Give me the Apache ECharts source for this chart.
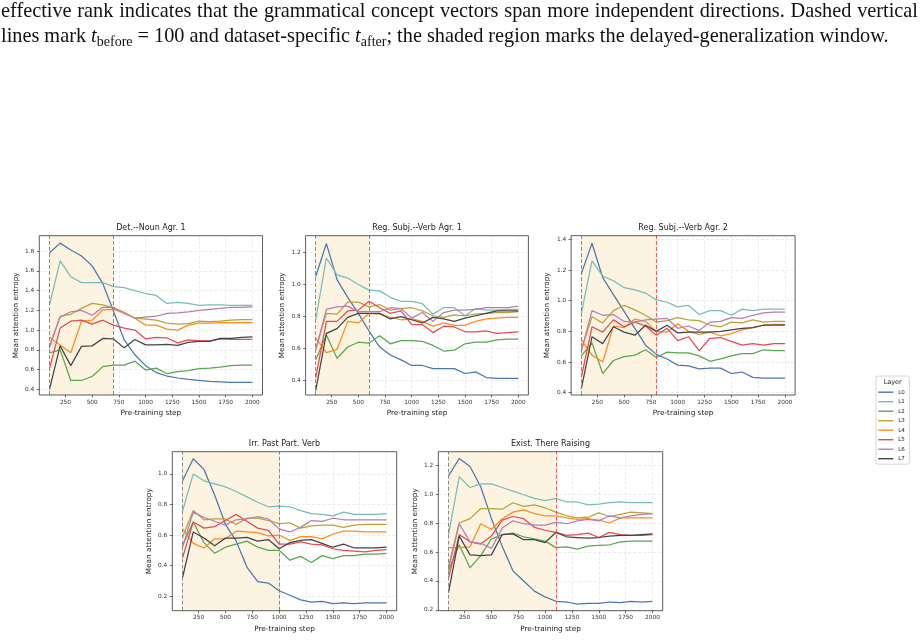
<!DOCTYPE html>
<html><head><meta charset="utf-8">
<script src="https://cdn.jsdelivr.net/npm/echarts@6/dist/echarts.min.js"></script>
<style>html,body{margin:0;padding:0;background:#fff}#c{width:920px;height:640px}</style>
</head><body><div id="c"></div>
<script>
// ---------------- data ----------------
const steps = [100,200,300,400,500,600,700,800,900,1000,1100,1200,1300,1400,1500,1600,1700,1800,1900,2000];
const xTicks = [250,500,750,1000,1250,1500,1750,2000];
const layers = ['L0','L1','L2','L3','L4','L5','L6','L7'];
const panelTitles = ['Det.--Noun Agr. 1','Reg. Subj.--Verb Agr. 1','Reg. Subj.--Verb Agr. 2','Irr. Past Part. Verb','Exist. There Raising'];
const tBefore = 100;
const tAfter = [700, 600, 800, 1000, 1100];

const yTicksDet = [0.4,0.6,0.8,1.0,1.2,1.4,1.6,1.8];
const yTicksReg1 = [0.4,0.6,0.8,1.0,1.2];
const yTicksReg2 = [0.4,0.6,0.8,1.0,1.2,1.4];
const yTicksIrr = [0.2,0.4,0.6,0.8,1.0];
const yTicksExist = [0.2,0.4,0.6,0.8,1.0,1.2];

// Det.--Noun Agr. 1
const detL0 = [1.78,1.88,1.81,1.75,1.65,1.47,1.19,0.90,0.75,0.64,0.57,0.535,0.515,0.50,0.49,0.48,0.475,0.47,0.47,0.47];
const detL1 = [1.25,1.70,1.54,1.48,1.48,1.48,1.44,1.43,1.40,1.37,1.35,1.27,1.28,1.27,1.25,1.255,1.255,1.25,1.25,1.25];
const detL2 = [0.77,0.80,0.49,0.49,0.53,0.63,0.645,0.645,0.685,0.595,0.615,0.56,0.58,0.59,0.61,0.615,0.625,0.64,0.645,0.645];
const detL3 = [0.82,1.14,1.16,1.22,1.27,1.255,1.225,1.18,1.12,1.11,1.10,1.07,1.06,1.065,1.09,1.085,1.09,1.10,1.105,1.105];
const detL4 = [0.93,0.85,0.77,1.09,1.10,1.205,1.21,1.17,1.12,1.05,1.05,1.01,1.00,1.05,1.07,1.07,1.075,1.075,1.075,1.075];
const detL5 = [0.61,1.02,1.09,1.10,1.06,1.10,1.05,1.02,1.00,0.91,0.925,0.92,0.87,0.90,0.89,0.89,0.91,0.905,0.905,0.905];
const detL6 = [0.84,1.13,1.185,1.20,1.15,1.23,1.23,1.17,1.12,1.13,1.14,1.17,1.175,1.185,1.20,1.21,1.22,1.23,1.23,1.235];
const detL7 = [0.40,0.84,0.64,0.835,0.84,0.915,0.91,0.82,0.905,0.85,0.85,0.855,0.845,0.875,0.885,0.885,0.915,0.915,0.925,0.93];

// Reg. Subj.--Verb Agr. 1
const reg1L0 = [1.05,1.255,1.03,0.92,0.82,0.71,0.61,0.56,0.53,0.495,0.495,0.475,0.475,0.475,0.445,0.455,0.42,0.415,0.415,0.415];
const reg1L1 = [0.78,1.165,1.06,1.04,1.00,0.965,0.96,0.92,0.895,0.895,0.88,0.815,0.855,0.855,0.805,0.85,0.84,0.84,0.845,0.845];
const reg1L2 = [0.53,0.685,0.54,0.61,0.64,0.635,0.68,0.63,0.65,0.65,0.645,0.62,0.585,0.59,0.63,0.64,0.64,0.655,0.66,0.66];
const reg1L3 = [0.60,0.82,0.815,0.89,0.89,0.86,0.875,0.84,0.85,0.855,0.835,0.805,0.795,0.81,0.805,0.815,0.82,0.825,0.825,0.83];
const reg1L4 = [0.665,0.575,0.595,0.77,0.76,0.82,0.815,0.795,0.78,0.785,0.77,0.74,0.76,0.745,0.745,0.77,0.785,0.79,0.795,0.795];
const reg1L5 = [0.42,0.77,0.77,0.835,0.84,0.895,0.855,0.82,0.835,0.75,0.75,0.70,0.74,0.735,0.705,0.705,0.71,0.695,0.70,0.705];
const reg1L6 = [0.59,0.845,0.86,0.865,0.83,0.83,0.83,0.855,0.85,0.79,0.825,0.77,0.825,0.84,0.84,0.845,0.855,0.855,0.855,0.865];
const reg1L7 = [0.34,0.695,0.725,0.795,0.82,0.82,0.82,0.785,0.80,0.78,0.76,0.795,0.785,0.77,0.79,0.805,0.82,0.835,0.835,0.835];

// Reg. Subj.--Verb Agr. 2
const reg2L0 = [1.175,1.375,1.15,1.04,0.93,0.82,0.71,0.65,0.62,0.58,0.575,0.555,0.56,0.56,0.525,0.535,0.50,0.495,0.495,0.495];
const reg2L1 = [0.915,1.26,1.16,1.13,1.085,1.07,1.05,1.005,0.99,0.96,0.97,0.91,0.935,0.935,0.905,0.945,0.935,0.945,0.945,0.945];
const reg2L2 = [0.64,0.725,0.525,0.61,0.635,0.645,0.68,0.63,0.665,0.66,0.66,0.64,0.605,0.62,0.64,0.655,0.655,0.68,0.675,0.675];
const reg2L3 = [0.68,0.895,0.855,0.935,0.97,0.94,0.905,0.86,0.87,0.89,0.875,0.87,0.84,0.83,0.86,0.855,0.875,0.86,0.865,0.865];
const reg2L4 = [0.745,0.645,0.60,0.835,0.825,0.88,0.865,0.80,0.795,0.85,0.80,0.78,0.795,0.77,0.785,0.81,0.825,0.84,0.845,0.845];
const reg2L5 = [0.50,0.83,0.795,0.875,0.83,0.86,0.835,0.775,0.82,0.74,0.765,0.675,0.755,0.76,0.735,0.71,0.72,0.71,0.72,0.72];
const reg2L6 = [0.67,0.935,0.905,0.91,0.865,0.86,0.875,0.88,0.885,0.82,0.835,0.805,0.86,0.865,0.89,0.885,0.905,0.92,0.925,0.925];
const reg2L7 = [0.425,0.765,0.72,0.83,0.795,0.775,0.84,0.80,0.84,0.79,0.795,0.795,0.795,0.80,0.81,0.82,0.825,0.84,0.84,0.84];

// Irr. Past Part. Verb
const irrL0 = [0.955,1.10,1.03,0.86,0.67,0.56,0.39,0.295,0.285,0.235,0.205,0.175,0.16,0.165,0.15,0.155,0.15,0.155,0.155,0.155];
const irrL1 = [0.755,1.00,0.955,0.935,0.915,0.885,0.85,0.815,0.785,0.79,0.785,0.76,0.74,0.735,0.725,0.75,0.735,0.735,0.735,0.74];
const irrL2 = [0.53,0.685,0.55,0.48,0.52,0.54,0.56,0.52,0.50,0.50,0.435,0.46,0.42,0.465,0.445,0.465,0.465,0.475,0.475,0.48];
const irrL3 = [0.585,0.76,0.70,0.705,0.705,0.67,0.71,0.71,0.695,0.675,0.68,0.645,0.66,0.665,0.665,0.65,0.665,0.67,0.67,0.67];
const irrL4 = [0.64,0.545,0.515,0.575,0.575,0.625,0.62,0.615,0.595,0.60,0.565,0.59,0.59,0.575,0.605,0.625,0.625,0.62,0.62,0.62];
const irrL5 = [0.45,0.685,0.645,0.655,0.695,0.735,0.69,0.645,0.63,0.54,0.54,0.555,0.54,0.535,0.51,0.50,0.495,0.49,0.50,0.505];
const irrL6 = [0.52,0.75,0.715,0.69,0.665,0.70,0.705,0.72,0.705,0.64,0.62,0.65,0.695,0.69,0.71,0.70,0.70,0.70,0.70,0.70];
const irrL7 = [0.32,0.62,0.58,0.53,0.58,0.58,0.585,0.56,0.57,0.51,0.55,0.565,0.57,0.545,0.52,0.54,0.515,0.515,0.515,0.52];

// Exist. There Raising
const exiL0 = [1.125,1.245,1.19,1.05,0.83,0.64,0.47,0.40,0.33,0.29,0.26,0.255,0.24,0.245,0.245,0.255,0.25,0.26,0.255,0.26];
const exiL1 = [0.72,1.12,1.045,1.07,1.07,1.045,1.02,0.995,0.97,0.955,0.97,0.945,0.945,0.925,0.93,0.94,0.945,0.94,0.94,0.94];
const exiL2 = [0.47,0.65,0.49,0.575,0.69,0.72,0.73,0.705,0.69,0.675,0.63,0.635,0.62,0.64,0.645,0.65,0.67,0.675,0.675,0.675];
const exiL3 = [0.50,0.80,0.83,0.90,0.90,0.895,0.94,0.915,0.925,0.905,0.875,0.85,0.835,0.84,0.87,0.845,0.86,0.875,0.87,0.865];
const exiL4 = [0.63,0.63,0.635,0.795,0.755,0.83,0.875,0.89,0.865,0.85,0.85,0.835,0.825,0.83,0.82,0.80,0.835,0.835,0.835,0.835];
const exiL5 = [0.42,0.72,0.67,0.655,0.71,0.82,0.845,0.83,0.77,0.75,0.735,0.715,0.72,0.73,0.70,0.735,0.72,0.715,0.715,0.72];
const exiL6 = [0.48,0.795,0.67,0.66,0.625,0.765,0.815,0.795,0.785,0.785,0.805,0.795,0.815,0.825,0.815,0.85,0.835,0.85,0.86,0.865];
const exiL7 = [0.32,0.71,0.58,0.575,0.58,0.72,0.725,0.685,0.685,0.665,0.735,0.705,0.70,0.695,0.70,0.71,0.715,0.715,0.72,0.725];

const caption1 = 'effective rank indicates that the grammatical concept vectors span more independent directions. Dashed vertical';

// ---------------- layout / style ----------------
const panelSeries = [
  [detL0,detL1,detL2,detL3,detL4,detL5,detL6,detL7],
  [reg1L0,reg1L1,reg1L2,reg1L3,reg1L4,reg1L5,reg1L6,reg1L7],
  [reg2L0,reg2L1,reg2L2,reg2L3,reg2L4,reg2L5,reg2L6,reg2L7],
  [irrL0,irrL1,irrL2,irrL3,irrL4,irrL5,irrL6,irrL7],
  [exiL0,exiL1,exiL2,exiL3,exiL4,exiL5,exiL6,exiL7]
];
const panelYTicks = [yTicksDet, yTicksReg1, yTicksReg2, yTicksIrr, yTicksExist];
const boxes = [
  {left:39.3, top:235.7, width:223.2, height:159.3, ymin:0.343, ymax:1.955},
  {left:305.6, top:235.7, width:222.8, height:159.3, ymin:0.311, ymax:1.304},
  {left:571.1, top:235.7, width:224.0, height:159.3, ymin:0.385, ymax:1.424},
  {left:172.3, top:451.7, width:224.4, height:159.0, ymin:0.104, ymax:1.146},
  {left:438.3, top:451.7, width:224.4, height:159.0, ymin:0.195, ymax:1.292}
];
const colors = ['#4a77b0','#76bdb8','#59a650','#bba136','#ff8c1a','#e8484e','#b67db2','#444444'];
const FF = '"DejaVu Sans", sans-serif';
const tickFont = 5.8, labelFont = 7.3, titleFont = 8;

const grids = [], xAxes = [], yAxes = [], series = [], graphics = [];
boxes.forEach((b, i) => {
  grids.push({left:b.left, top:b.top, width:b.width, height:b.height, show:true, z:10,
    borderColor:'#333', borderWidth:0.8, backgroundColor:'transparent', containLabel:false});
  xAxes.push({type:'value', gridIndex:i, min:5, max:2095,
    name:'Pre-training step', nameLocation:'middle', nameGap:15,
    nameTextStyle:{fontSize:labelFont, color:'#222', fontFamily:FF},
    axisLine:{show:false},
    axisTick:{show:true, inside:false, length:2.5, customValues:xTicks, lineStyle:{color:'#333', width:0.7}},
    axisLabel:{show:true, customValues:xTicks, fontSize:tickFont, color:'#333', fontFamily:FF, margin:4, formatter:v=>String(v)},
    splitLine:{show:true, lineStyle:{color:'#e2e2e2', type:[3,2], width:0.7}}
  });
  yAxes.push({type:'value', gridIndex:i, min:b.ymin, max:b.ymax,
    name:'Mean attention entropy', nameLocation:'middle', nameGap:20,
    nameTextStyle:{fontSize:labelFont, color:'#222', fontFamily:FF},
    axisLine:{show:false},
    axisTick:{show:true, inside:false, length:2.5, customValues:panelYTicks[i], lineStyle:{color:'#333', width:0.7}},
    axisLabel:{show:true, customValues:panelYTicks[i], fontSize:tickFont, color:'#333', fontFamily:FF, margin:5, formatter:v=>v.toFixed(1)},
    splitLine:{show:true, lineStyle:{color:'#e2e2e2', type:[3,2], width:0.7}}
  });
  series.push({type:'line', name:'window'+i, xAxisIndex:i, yAxisIndex:i, data:[], z:1, silent:true,
    markArea:{silent:true, itemStyle:{color:'#fdf3e1'}, data:[[{xAxis:tBefore},{xAxis:tAfter[i]}]]}
  });
  panelSeries[i].forEach((vals, k) => {
    series.push({type:'line', name:layers[k], xAxisIndex:i, yAxisIndex:i,
      data: steps.map((s, j) => [s, vals[j]]),
      symbol:'none', showSymbol:false, z:3, silent:true,
      lineStyle:{width:1.25, color:colors[k]}, itemStyle:{color:colors[k]}
    });
  });
  series.push({type:'line', name:'vlines'+i, xAxisIndex:i, yAxisIndex:i, data:[], z:5, silent:true,
    markLine:{silent:true, symbol:'none', label:{show:false},
      data:[{xAxis:tBefore, lineStyle:{color:'#808080', type:[4,2], width:0.9}},
            {xAxis:tAfter[i], lineStyle:{color:'#f0503f', type:[4,2], width:0.9}}]}
  });
  graphics.push({type:'text', x:b.left + b.width/2, y:b.top - 7.5, z:20,
    style:{text:panelTitles[i], fill:'#222', font:titleFont+'px '+FF,
      textAlign:'center', align:'center', textVerticalAlign:'middle', verticalAlign:'middle'}});
});

// caption line 1 (justified)
const capSize = 20.3;
const capFontStr = capSize + 'px "Liberation Serif", "Times New Roman", serif';
const mctx = document.createElement('canvas').getContext('2d');
mctx.font = capFontStr;
const words = caption1.split(' ');
const wws = words.map(w => mctx.measureText(w).width);
const totalW = wws.reduce((a, c) => a + c, 0);
const gapW = Math.max(3, (918 - 1 - totalW) / (words.length - 1));
let cx = 1;
words.forEach((w, i) => {
  graphics.push({type:'text', x:cx, y:12,
    style:{text:w, fill:'#111', font:capFontStr, textAlign:'left', align:'left', textVerticalAlign:'middle', verticalAlign:'middle'}});
  cx += wws[i] + gapW;
});
// caption line 2 with math
graphics.push({type:'text', x:1, y:37,
  style:{
    text:'lines mark {it|t}{sub|before}{n| = 100 and dataset-specific }{it|t}{sub|after}{n|; the shaded region marks the delayed-generalization window.}',
    fill:'#111', font:capFontStr, textAlign:'left', align:'left', textVerticalAlign:'middle', verticalAlign:'middle',
    rich:{
      n:{fontSize:capSize, fontFamily:'"Liberation Serif", serif', lineHeight:24, fill:'#111'},
      it:{fontSize:capSize, fontFamily:'"Liberation Serif", serif', fontStyle:'italic', lineHeight:24, fill:'#111'},
      sub:{fontSize:14, fontFamily:'"Liberation Serif", serif', lineHeight:13, verticalAlign:'bottom', fill:'#111'}
    }
  }});
// legend title
graphics.push({type:'text', x:892.7, y:382.5, z:30,
  style:{text:'Layer', fill:'#222', font:'6.5px '+FF, textAlign:'center', align:'center', textVerticalAlign:'middle', verticalAlign:'middle'}});

const chart = echarts.init(document.getElementById('c'), null, {renderer:'canvas'});
chart.setOption({
  animation:false,
  backgroundColor:'#ffffff',
  grid:grids, xAxis:xAxes, yAxis:yAxes, series:series,
  legend:{data:layers, orient:'vertical', left:876, top:376, z:25,
    padding:[13.2,4.5,2.5,2.3], itemWidth:15, itemHeight:7, itemGap:3.5,
    icon:'path://M0,0h15v1.4h-15z',
    backgroundColor:'#ffffff', borderColor:'#cccccc', borderWidth:0.8, borderRadius:2,
    selectedMode:false,
    textStyle:{fontSize:5.5, color:'#222', fontFamily:FF}},
  graphic:{elements:graphics}
});
</script></body></html>
